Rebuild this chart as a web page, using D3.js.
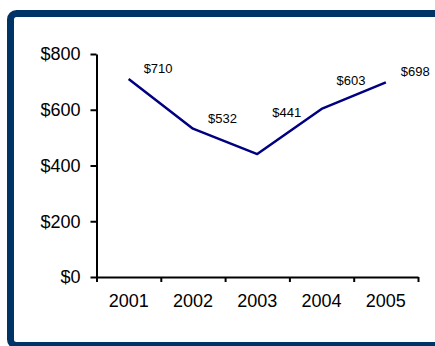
<!DOCTYPE html>
<html>
<head>
<meta charset="utf-8">
<script src="https://cdn.jsdelivr.net/npm/d3@7"></script>
<style>
  html, body { margin: 0; padding: 0; background: #fff; }
  svg { display: block; }
  text { font-family: "Liberation Sans", Arial, sans-serif; }
</style>
</head>
<body>
<svg id="chart" width="435" height="346"></svg>
<script>
// Annual values, 2001–2005
const years = ["2001", "2002", "2003", "2004", "2005"];
const values = [710, 532, 441, 603, 698];
const yTicks = [0, 200, 400, 600, 800];

(function draw() {
  const svg = d3.select("#chart");

  // Framing panel with a thick navy border
  svg.append("rect")
    .attr("x", 10.5).attr("y", 13.5)
    .attr("width", 440).attr("height", 332)
    .attr("rx", 6).attr("ry", 6)
    .attr("fill", "#fff")
    .attr("stroke", "#003366")
    .attr("stroke-width", 7);

  const plotLeft = 96.5, plotRight = 418, plotTop = 54, plotBottom = 277;

  const x = d3.scaleBand().domain(years).range([plotLeft, plotRight]).padding(0);
  const xEdge = d3.scaleLinear().domain([0, years.length]).range([plotLeft, plotRight]);
  const y = d3.scaleLinear().domain([0, 800]).range([plotBottom, plotTop]);

  const money = d => "$" + d3.format("d")(d);

  // Y axis
  const gy = svg.append("g")
    .attr("transform", `translate(${plotLeft},0)`)
    .call(d3.axisLeft(y).tickValues(yTicks).tickFormat(money)
      .tickSizeInner(6).tickSizeOuter(0).tickPadding(10));

  // X axis: labels centred in each band
  const gx = svg.append("g")
    .attr("transform", `translate(0,${plotBottom})`)
    .call(d3.axisBottom(x).tickSizeInner(0).tickSizeOuter(0).tickPadding(17));

  // X axis: tick marks on band boundaries
  const gxe = svg.append("g")
    .attr("transform", `translate(0,${plotBottom})`)
    .call(d3.axisBottom(xEdge).tickValues(d3.range(years.length + 1))
      .tickFormat("").tickSizeInner(5).tickSizeOuter(0));

  [gy, gx, gxe].forEach(g => {
    g.selectAll("path.domain").attr("stroke", "#000").attr("stroke-width", 2);
    g.selectAll(".tick line").attr("stroke", "#000").attr("stroke-width", 2);
    g.selectAll(".tick text").attr("fill", "#000").style("font-size", "18px");
  });
  gx.select("path.domain").remove();

  // Series line
  const pts = years.map((yr, i) => ({ yr, v: values[i],
    px: x(yr) + x.bandwidth() / 2, py: y(values[i]) }));
  const line = d3.line().x(d => d.px).y(d => d.py);

  svg.append("path")
    .datum(pts)
    .attr("d", line)
    .attr("fill", "none")
    .attr("stroke", "#000080")
    .attr("stroke-width", 2.5)
    .attr("stroke-linejoin", "round");

  // Height of the line at a given horizontal position
  function lineYAt(px) {
    if (px <= pts[0].px) return pts[0].py;
    for (let i = 1; i < pts.length; i++) {
      if (px <= pts[i].px) {
        const a = pts[i - 1], b = pts[i];
        const t = (px - a.px) / (b.px - a.px);
        return a.py + t * (b.py - a.py);
      }
    }
    return pts[pts.length - 1].py;
  }

  // Value labels above-right of each point, lifted clear of the line
  const labels = svg.append("g").selectAll("text")
    .data(pts)
    .join("text")
    .attr("x", d => d.px + 15)
    .attr("fill", "#000")
    .style("font-size", "13px")
    .text(d => money(d.v));

  labels.each(function (d) {
    const x0 = d.px + 15;
    const w = this.getComputedTextLength();
    let minY = d.py;
    for (let k = 0; k <= 10; k++) minY = Math.min(minY, lineYAt(x0 + w * k / 10));
    d3.select(this).attr("y", minY - 6);
  });
})();
</script>
</body>
</html>
